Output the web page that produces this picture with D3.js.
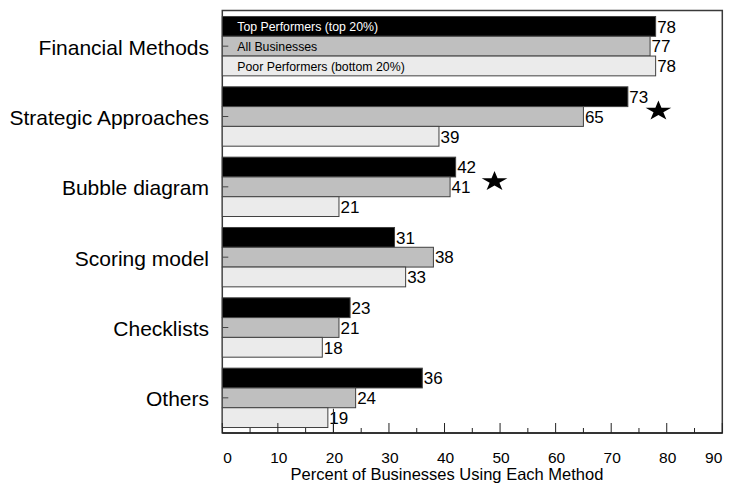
<!DOCTYPE html>
<html>
<head>
<meta charset="utf-8">
<script src="https://cdn.jsdelivr.net/npm/d3@7"></script>
<style>
  html, body { margin: 0; padding: 0; background: #fff; }
  svg { display: block; font-family: "Liberation Sans", Arial, sans-serif; }
</style>
</head>
<body>
<svg id="chart" width="733" height="491"></svg>
<script>
// ---- data ----
const categories = ["Financial Methods", "Strategic Approaches", "Bubble diagram", "Scoring model", "Checklists", "Others"];
const seriesNames = ["Top Performers (top 20%)", "All Businesses", "Poor Performers (bottom 20%)"];
const topPerformers = [78, 73, 42, 31, 23, 36];
const allBusinesses = [77, 65, 41, 38, 21, 24];
const poorPerformers = [78, 39, 21, 33, 18, 19];
const xTicks = [0, 10, 20, 30, 40, 50, 60, 70, 80, 90];
const xMinorTicks = [5, 15, 25, 35, 45, 55, 65, 75, 85];
const starCategories = ["Strategic Approaches", "Bubble diagram"];
const starValues = [78.5, 49];
const xTitle = "Percent of Businesses Using Each Method";

(function () {
const seriesValues = [topPerformers, allBusinesses, poorPerformers];
const fills = ["#000000", "#bfbfbf", "#ebebeb"];
const legendColors = ["#ffffff", "#000000", "#000000"];

const svg = d3.select("#chart");
const pLeft = 222.3, pRight = 722.3, pTop = 10.5, pBottom = 433;

const x = d3.scaleLinear().domain([0, 90]).range([pLeft, pRight]);
const y = d3.scaleBand().domain(categories).range([11, 433]).paddingInner(0.156).paddingOuter(0.078);
const ys = d3.scaleBand().domain(d3.range(3)).range([0, y.bandwidth()]);

// frame
svg.append("rect")
  .attr("x", pLeft).attr("y", pTop)
  .attr("width", pRight - pLeft).attr("height", pBottom - pTop)
  .attr("fill", "none").attr("stroke", "#3a3a3a").attr("stroke-width", 1.5);

// bars
const groups = svg.selectAll("g.grp").data(categories).join("g")
  .attr("class", "grp")
  .attr("transform", d => `translate(0,${y(d)})`);

seriesValues.forEach((vals, si) => {
  groups.append("rect")
    .attr("x", x(0))
    .attr("y", ys(si))
    .attr("width", (d, i) => x(vals[i]) - x(0))
    .attr("height", ys.bandwidth())
    .attr("fill", fills[si])
    .attr("stroke", "#404040")
    .attr("stroke-width", 1);
  groups.append("text")
    .attr("x", (d, i) => x(vals[i]) + 1.5)
    .attr("y", ys(si) + ys.bandwidth() / 2 + 6.3)
    .attr("font-size", 17)
    .attr("fill", "#000")
    .text((d, i) => vals[i]);
});

// legend text inside first group bars
seriesNames.forEach((name, si) => {
  svg.append("text")
    .attr("x", x(0) + 15)
    .attr("y", y(categories[0]) + ys(si) + ys.bandwidth() / 2 + 5)
    .attr("font-size", 12.3)
    .attr("fill", legendColors[si])
    .text(name);
});

// y-axis ticks (inward) and category labels
categories.forEach(c => {
  const cy = y(c) + ys(1) + ys.bandwidth() / 2;
  svg.append("line")
    .attr("x1", pLeft).attr("x2", pLeft + 6)
    .attr("y1", cy).attr("y2", cy)
    .attr("stroke", "#444").attr("stroke-width", 1);
  svg.append("text")
    .attr("x", 209).attr("y", cy + 8.5)
    .attr("text-anchor", "end")
    .attr("font-size", 21)
    .attr("fill", "#000")
    .text(c);
});

// x-axis line and ticks (inward)
svg.append("line")
  .attr("x1", pLeft).attr("x2", pRight)
  .attr("y1", pBottom).attr("y2", pBottom)
  .attr("stroke", "#222").attr("stroke-width", 1.5);
xTicks.forEach(t => {
  svg.append("line")
    .attr("x1", x(t)).attr("x2", x(t))
    .attr("y1", pBottom).attr("y2", pBottom - 10)
    .attr("stroke", "#222").attr("stroke-width", 1);
});
xMinorTicks.forEach(t => {
  svg.append("line")
    .attr("x1", x(t)).attr("x2", x(t))
    .attr("y1", pBottom).attr("y2", pBottom - 5)
    .attr("stroke", "#222").attr("stroke-width", 1);
});
// stray vertical stroke at 20 next to the "19" label
svg.append("line")
  .attr("x1", x(20)).attr("x2", x(20))
  .attr("y1", y("Others") + ys(2) + 1).attr("y2", pBottom)
  .attr("stroke", "#222").attr("stroke-width", 1);

xTicks.forEach((t, i) => {
  const last = i === xTicks.length - 1;
  const anchor = i === 0 ? "start" : (last ? "end" : "middle");
  svg.append("text")
    .attr("x", last ? x(t) : x(t) + 1)
    .attr("y", 462.5)
    .attr("text-anchor", anchor)
    .attr("font-size", 15.5)
    .attr("fill", "#000")
    .text(t);
});

svg.append("text")
  .attr("x", 447).attr("y", 479.5)
  .attr("text-anchor", "middle")
  .attr("font-size", 16.5)
  .attr("fill", "#000")
  .text(xTitle);

// stars
const star = d3.symbol().type(d3.symbolStar).size(12 * 12 / 0.8908130915292852);
starCategories.forEach((c, i) => {
  const sy = y(c) + ys(1) + 4.5;
  svg.append("path")
    .attr("d", star())
    .attr("transform", `translate(${x(starValues[i])},${sy}) scale(1.125,0.875)`)
    .attr("fill", "#000");
});
})();
</script>
</body>
</html>
